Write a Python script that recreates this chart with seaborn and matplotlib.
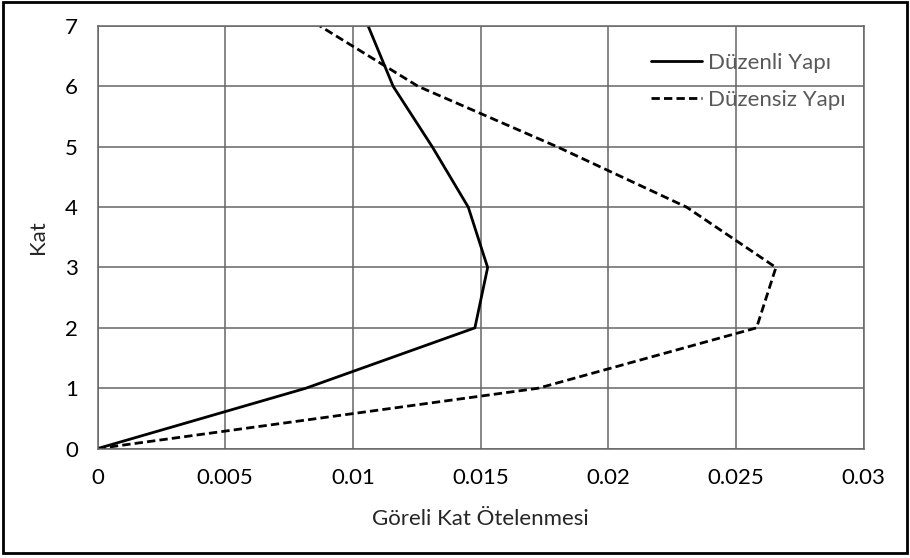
import matplotlib
matplotlib.use("Agg")
import matplotlib.pyplot as plt
from matplotlib.patches import Rectangle
import seaborn as sns

# Story number and inter-story drift ratios for the two buildings
kat = [0, 1, 2, 3, 4, 5, 6, 7]
duzenli = [0.0, 0.00816, 0.01478, 0.01528, 0.01452, 0.01311, 0.01158, 0.0106]
duzensiz = [0.0, 0.01726, 0.02581, 0.02657, 0.02307, 0.0180, 0.01256, 0.00871]

x_ticks = [0, 0.005, 0.01, 0.015, 0.02, 0.025, 0.03]
x_tick_labels = ["0", "0.005", "0.01", "0.015", "0.02", "0.025", "0.03"]
y_ticks = [0, 1, 2, 3, 4, 5, 6, 7]

sns.set_style("white")
plt.rcParams["font.family"] = ["Lato", "DejaVu Sans"]

FS = 16
W, H = 910, 558
fig = plt.figure(figsize=(W / 100, H / 100), dpi=100)
ax = fig.add_axes([97.5 / W, 1 - 448.6 / H, 766 / W, 422.6 / H])

sns.lineplot(x=duzenli, y=kat, sort=False, estimator=None, color="black",
             linewidth=2.0, label="Düzenli Yapı", ax=ax)
sns.lineplot(x=duzensiz, y=kat, sort=False, estimator=None, color="black",
             linewidth=2.0, linestyle=(0, (3.0, 1.5)), label="Düzensiz Yapı", ax=ax)

ax.set_xlim(0, 0.03)
ax.set_ylim(0, 7)
ax.set_xticks(x_ticks)
ax.set_xticklabels(x_tick_labels)
ax.set_yticks(y_ticks)
ax.grid(True, color="#666666", linewidth=1.1)
ax.set_axisbelow(True)
for s in ax.spines.values():
    s.set_color("#666666")
    s.set_linewidth(1.1)
ax.tick_params(axis="both", length=0, labelsize=FS, colors="black", pad=14)

ax.set_xlabel("Göreli Kat Ötelenmesi", fontsize=FS, color="#262626", labelpad=15)
ax.set_ylabel("Kat", fontsize=FS, color="#262626", labelpad=12)

leg = ax.legend(loc="upper left", bbox_to_anchor=(651 / W, 1 - 53 / H),
                bbox_transform=fig.transFigure, frameon=False, fontsize=FS,
                handlelength=2.3, handletextpad=0.27, labelspacing=0.75,
                borderpad=0, borderaxespad=0)
for t in leg.get_texts():
    t.set_color("#595959")

# Outer border around the whole chart
fig.patches.append(Rectangle((3 / W, 5 / H), 904 / W, 551 / H, transform=fig.transFigure,
                             fill=False, edgecolor="black", linewidth=2.0))

fig.savefig("out.png", dpi=100)
